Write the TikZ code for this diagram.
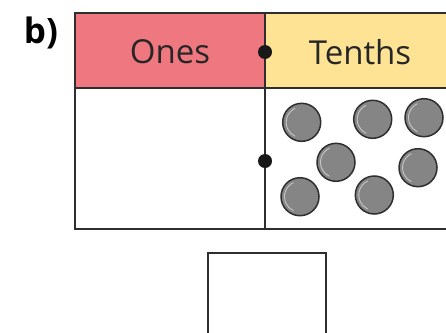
\documentclass[tikz,border=0pt]{standalone}
\usepackage{fontspec}
\setmainfont{Open Sans}
\definecolor{onespink}{HTML}{EF7780}
\definecolor{tenthsyellow}{HTML}{FEE395}
\definecolor{counter}{HTML}{858585}
\definecolor{rule}{HTML}{2E2E2E}
\tikzset{
    cell/.style={draw=rule, line width=2.8pt},
    counterdisc/.style={circle, draw=rule, line width=1.5pt, fill=counter, minimum size=38pt, inner sep=0pt},
    placedot/.style={circle, fill=black!90, minimum size=14pt, inner sep=0pt},
    heading/.style={font=\fontsize{33}{38}\selectfont, text=black!85}
}
\begin{document}
\begin{tikzpicture}[x=1pt, y=-1pt]
    \useasboundingbox (0, 0) rectangle (446, 332);

    % header cells
    \fill[onespink] (75, 13) rectangle (265, 88);
    \fill[tenthsyellow] (265, 13) rectangle (450, 88);
    \draw[cell] (450, 13) -- (75, 13) -- (75, 229) -- (450, 229);
    \draw[cell] (75, 88) -- (450, 88);
    \draw[cell] (265, 13) -- (265, 229);

    \node[heading] (ones) at (170, 52) {Ones};
    \node[heading] (tenths) at (360, 52) {Tenths};
    \node[font=\fontsize{35}{40}\selectfont\bfseries] (label) at (41, 33) {b)};

    % decimal points
    \node[placedot] (pointtop) at (265, 52) {};
    \node[placedot] (pointmid) at (265, 161) {};

    % tenths counters
    \foreach \cx/\cy [count=\i] in {301.7/122.3, 372.7/119.3, 424/117.7, 336/162.3, 418/167.7, 300/196.7, 374.3/195} {
        \node[counterdisc] (tenth\i) at (\cx, \cy) {};
        \draw[gray!45, line width=0.9pt] (tenth\i.center) ++(115:15.5pt) arc (115:245:15.5pt);
    }

    % answer box
    \draw[draw=rule, line width=2.4pt] (208, 340) -- (208, 253) -- (326, 253) -- (326, 340);
\end{tikzpicture}
\end{document}
